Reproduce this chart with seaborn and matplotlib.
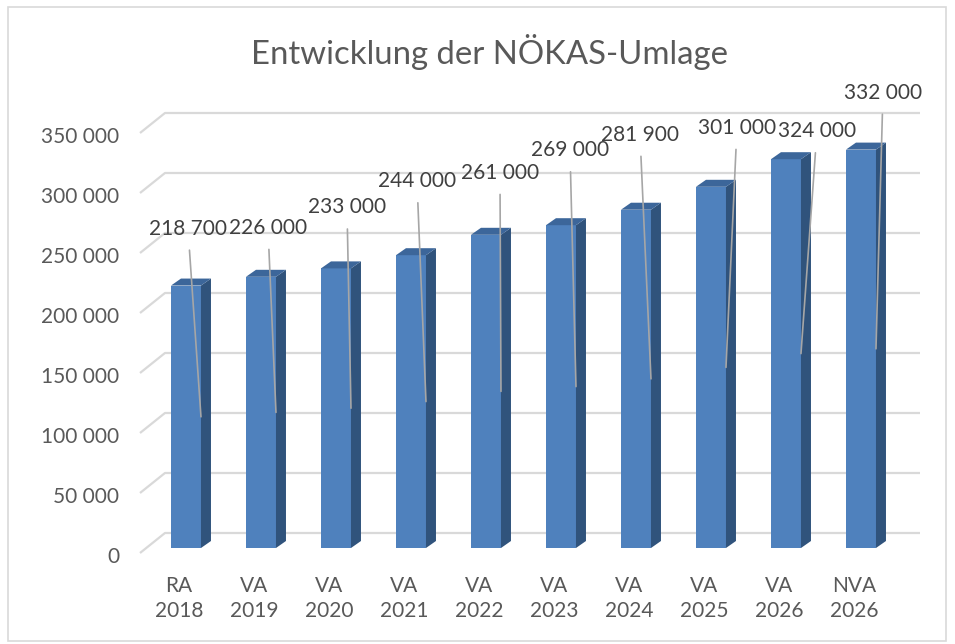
import numpy as np
import pandas as pd
import matplotlib
matplotlib.use("Agg")
import matplotlib.pyplot as plt
import seaborn as sns
from matplotlib.patches import Polygon, Rectangle
from matplotlib.transforms import ScaledTranslation

# --- datos ---
kategorien = ["RA\n2018", "VA\n2019", "VA\n2020", "VA\n2021", "VA\n2022",
              "VA\n2023", "VA\n2024", "VA\n2025", "VA\n2026", "NVA\n2026"]
werte = [218700, 226000, 233000, 244000, 261000, 269000, 281900, 301000, 324000, 332000]
y_ticks = [0, 50000, 100000, 150000, 200000, 250000, 300000, 350000]
titel = "Entwicklung der NÖKAS-Umlage"

# posicion de las etiquetas (pixeles respecto a la parte superior de la barra)
label_dx = [2, 7, 11, 6, 14, 9, 4, 26, 31, 22]
label_dy = [57, 49, 61, 74, 62, 75, 75, 59, 28, 57]

df = pd.DataFrame({"kat": kategorien, "wert": werte})

sns.set_style("white")
plt.rcParams["font.family"] = ["Lato", "DejaVu Sans"]

azul = "#4F81BD"
lado = "#30537C"
techo = "#3C669A"
gris_texto = "#595959"
gris_linea = "#D9D9D9"

fig = plt.figure(figsize=(9.55, 6.44), dpi=100)
ax = fig.add_axes([140 / 955, 96 / 644, 780 / 955, 448 / 644])

px_x = 1 / 75          # unidades de datos por pixel (x)
px_y = 373333 / 448    # unidades de datos por pixel (y)

sns.barplot(data=df, x="kat", y="wert", color=azul, width=0.4,
            linewidth=0, saturation=1, ax=ax, zorder=3)
ax.set_xlim(-0.613, 9.787)
ax.set_ylim(0, 373333)

# caras laterales y superiores (efecto 3D)
dx, dy = 10 * px_x, 7 * px_y
for p in list(ax.patches):
    x0, w, h = p.get_x(), p.get_width(), p.get_height()
    x1 = x0 + w
    ax.add_patch(Polygon([(x1, 0), (x1, h), (x1 + dx, h + dy), (x1 + dx, dy)],
                         closed=True, facecolor=lado, edgecolor="none", zorder=3))
    ax.add_patch(Polygon([(x0, h), (x1, h), (x1 + dx, h + dy), (x0 + dx, h + dy)],
                         closed=True, facecolor=techo, edgecolor="none", zorder=3))

# lineas de cuadricula con perspectiva
x_front, x_back, x_right = -0.613, -0.28, 9.787
for v in y_ticks:
    ax.plot([x_front, x_back, x_right],
            [v - 5 * px_y, v + 15 * px_y, v + 15 * px_y],
            color=gris_linea, lw=1.6, zorder=0, clip_on=False, solid_capstyle="butt")

# etiquetas de datos con lineas guia
for i, v in enumerate(werte):
    lx = i + label_dx[i] * px_x
    ly = v + label_dy[i] * px_y
    ax.annotate(f"{v:,}".replace(",", " "), xy=(i + 0.2, v / 2), xytext=(lx, ly),
                ha="center", va="center", fontsize=15, color="#404040",
                arrowprops=dict(arrowstyle="-", color="#A6A6A6", lw=1.2,
                                shrinkA=6, shrinkB=0),
                zorder=5, annotation_clip=False)

# ejes
ax.set_yticks(y_ticks)
ax.set_yticklabels([f"{v:,}".replace(",", " ") for v in y_ticks])
ax.tick_params(axis="y", length=0, pad=15, labelsize=15, labelcolor=gris_texto)
ax.tick_params(axis="x", length=0, pad=20, labelsize=15, labelcolor=gris_texto)
for lab in ax.get_yticklabels():
    lab.set_transform(lab.get_transform() + ScaledTranslation(0, -7 / 100, fig.dpi_scale_trans))
for lab in ax.get_xticklabels():
    lab.set_transform(lab.get_transform() + ScaledTranslation(-7 / 100, 0, fig.dpi_scale_trans))
    lab.set_linespacing(1.35)
ax.set_xlabel("")
ax.set_ylabel("")
sns.despine(ax=ax, left=True, bottom=True)

fig.text(489 / 955, 1 - 52 / 644, titel, ha="center", va="center",
         fontsize=23.7, color=gris_texto)

# borde del grafico
fig.patches.append(Rectangle((8 / 955, 3 / 644), 938 / 955, 634 / 644,
                             transform=fig.transFigure, fill=False,
                             edgecolor=gris_linea, lw=1.2))

fig.savefig("out.png", dpi=100)
